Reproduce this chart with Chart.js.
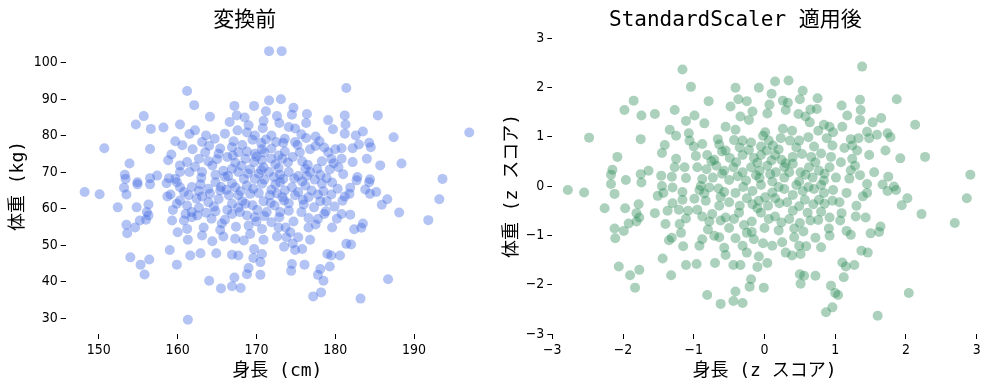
<!DOCTYPE html>
<html>
<head>
<meta charset="utf-8">
<script src="https://cdn.jsdelivr.net/npm/chart.js@4.4.1/dist/chart.umd.min.js"></script>
<style>
  body { margin: 0; background: #fff; width: 989px; height: 390px; overflow: hidden; position: relative; }
  .box { position: absolute; top: 0; height: 390px; }
</style>
</head>
<body>
<div class="box" style="left:0;width:494px"><canvas id="before" width="494" height="390" style="width:494px;height:390px"></canvas></div>
<div class="box" style="left:494px;width:495px"><canvas id="after" width="495" height="390" style="width:495px;height:390px"></canvas></div>
<script>
// 変換前: [身長 cm, 体重 kg]
const rawPoints = [
  [161.2,92.3],[162.1,88.4],[155.7,85.4],[154.7,83.1],[156.6,81.9],[158.2,82.3],[160.3,83.1],[161.5,80.5],
  [159.7,78.5],[160.6,77.4],[161.9,76.3],[150.7,76.6],[156.5,76.4],[159.2,74.9],[158.8,73.3],[153.9,72.4],
  [153.3,69.3],[154.9,67.3],[156.5,68.4],[157.4,69.1],[158.9,68.4],[160.3,70.1],[161.5,70.1],[159.7,68.2],
  [153.4,68.2],[161.2,72.8],[160.3,71.9],
  [148.2,64.6],[150.1,64.0],[153.2,65.8],[153.5,63.9],[154.9,66.7],[156.5,66.7],[152.4,60.4],[154.8,60.4],
  [156.3,61.2],[156.1,59.1],[156.3,58.2],[156.0,57.0],[155.2,56.8],[154.6,54.9],[153.5,55.6],[153.6,53.3],
  [154.0,46.7],[155.3,44.7],[156.4,46.1],[155.8,42.0],[159.0,48.7],[159.9,44.7],[161.3,29.6],[158.7,63.4],
  [159.1,63.9],[158.6,67.0],[159.9,67.3],[159.9,61.4],[159.4,59.7],[159.3,56.8],[160.0,53.6],[160.8,56.8],
  [161.2,54.5],[161.3,51.5],[161.6,47.2],[160.8,64.6],[161.4,63.7],[160.3,62.3],[161.2,60.9],[161.8,59.1],
  [161.8,57.7],[161.0,58.6],[160.3,65.9],
  [171.6,103.2],[173.2,103.2],[171.6,89.7],[173.1,90.0],[169.7,88.2],[167.2,88.2],[174.7,87.7],[171.2,86.7],
  [164.1,85.2],[167.5,85.6],[168.5,85.0],[172.6,85.4],[174.5,85.8],[176.4,86.0],[179.1,84.3],[166.6,83.8],
  [170.9,84.1],[172.9,83.5],[176.3,83.5],[169.0,82.9],[167.6,81.5],[168.8,80.9],[170.8,82.1],[174.1,82.4],
  [174.9,82.0],[179.7,81.8],[163.6,80.1],[162.2,81.5],[175.7,80.4],[176.3,79.4],[177.5,79.8],[167.1,78.5],
  [170.6,78.0],[172.5,78.3],[173.4,78.1],[163.1,78.3],[165.4,76.5],[167.7,75.5],[168.8,75.7],[169.8,75.1],
  [171.9,76.5],[173.6,75.7],[176.8,76.3],[177.5,77.2],[163.5,75.5],[165.2,75.1],[180.0,76.3],[162.7,73.7],
  [163.9,73.0],[166.3,74.2],[167.3,72.6],[168.6,73.7],[169.7,72.8],[170.7,73.3],[171.9,73.7],[173.3,73.7],
  [174.6,74.2],[175.8,73.0],[178.3,73.0],[179.5,73.7],[180.4,71.4],[163.1,70.1],[164.8,69.3],[166.0,68.7],
  [167.7,70.1],[169.2,70.8],[170.3,69.6],[171.6,70.1],[172.8,71.2],[174.1,70.1],[175.3,69.0],[176.8,70.1],
  [178.1,69.3],[179.3,70.8],[166.9,71.0],[170.9,71.4],[172.2,68.7],[173.4,68.2],[176.2,71.0],[168.4,68.2],
  [164.4,71.9],[169.8,68.2],[178.9,68.4],[179.1,75.5],[174.9,78.3],[164.7,79.2],[166.0,80.6],[169.8,80.1],
  [171.9,80.1],[173.6,79.2],[170.7,76.3],[166.9,76.9],
  [181.4,93.1],[181.2,85.6],[181.3,83.1],[185.4,85.6],[181.2,80.6],[182.6,80.1],[183.5,81.2],[187.4,79.6],
  [197.0,80.9],[180.8,76.6],[182.2,76.6],[183.0,77.6],[184.3,78.1],[184.5,76.9],[180.8,73.7],[182.2,72.8],
  [184.0,73.7],[185.7,71.9],[188.4,72.4],[182.8,68.7],[184.4,68.1],[193.6,68.2],
  [181.9,65.8],[182.7,67.8],[184.3,67.3],[183.8,65.3],[184.4,64.1],[185.2,64.6],[193.2,62.6],[186.6,62.6],
  [185.9,61.1],[188.1,59.0],[191.8,56.9],[181.2,63.4],[181.8,64.1],[180.8,58.6],[181.9,58.4],[183.5,56.0],
  [183.3,54.8],[182.4,54.4],[181.4,50.4],[182.0,50.2],[180.6,47.2],[186.7,40.7],[183.2,35.4],
  [164.0,40.3],[165.5,38.2],[166.9,38.8],[168.0,38.3],[167.2,41.2],[168.8,42.1],[169.0,43.8],[170.5,41.9],
  [162.9,47.8],[164.9,47.8],[166.9,47.4],[167.7,47.2],[169.7,49.0],[170.7,47.6],[169.6,46.5],[170.5,45.4],
  [174.5,44.9],[174.4,43.0],[176.1,44.7],[178.1,43.5],[177.8,41.9],[178.5,40.3],[178.2,37.1],[177.2,36.0],
  [179.3,44.2],[179.5,47.2],[179.0,47.6],[173.5,49.6],[174.6,50.5],[174.9,48.7],[175.8,49.0],[176.8,51.5],
  [163.1,52.7],[164.4,51.1],[165.8,52.4],[167.3,51.8],[168.4,51.3],[169.2,53.1],[170.9,51.5],[172.6,52.4],
  [173.8,52.2],[175.3,52.2],[162.5,58.2],[164.3,57.3],[165.4,54.2],[166.9,58.6],[167.4,55.1],[167.9,59.1],
  [169.0,55.4],[169.8,57.7],[170.7,54.5],[171.9,56.3],[172.9,57.7],[173.7,54.9],[174.3,53.6],[176.6,57.5],
  [177.5,55.7],[178.6,58.6],[179.6,54.9],[180.2,57.3],[162.9,66.7],[164.1,64.1],[163.9,61.8],[162.7,60.3],
  [165.4,65.0],[166.5,63.7],[167.3,65.9],[168.2,62.1],[169.2,64.1],[170.1,59.7],[170.9,62.1],[170.7,66.9],
  [172.4,66.7],[172.3,60.9],[173.3,63.2],[174.1,59.5],[174.9,63.7],[176.0,61.2],[177.0,65.0],[178.1,62.1],
  [178.8,59.3],[179.5,63.9],[179.9,60.6],[174.5,65.9],[176.2,66.4],[178.3,66.9],[168.8,66.4],[166.3,59.7],
  [164.8,59.3],[167.7,60.3],[171.7,63.7],[164.8,67.3],[166.9,67.0],[173.6,65.0],[170.3,64.3],[167.7,63.7],
  [175.3,64.6],[177.8,63.9],[178.9,62.1],[163.1,63.4],[165.2,62.7],[171.9,65.2],[168.6,61.4],[174.1,61.5],
  [176.6,63.2],[166.9,61.4],[171.3,59.1],[173.0,59.1],[175.7,59.1],[163.3,54.9],[172.8,54.9],[176.6,54.9],
  [163.0,68.5],[165.8,70.4],[168.1,71.8],[170.0,74.3],[172.4,72.2],[174.0,72.7],[176.5,72.1],[177.7,71.0],
  [179.8,72.5],[165.0,73.6],[167.0,74.6],[171.0,75.4],[172.8,74.6],[175.5,75.5],[178.6,76.8],[164.0,77.3],
  [168.2,77.5],[169.5,78.9],[171.2,79.0],[175.2,77.5],[178.0,78.5],[165.5,66.0],[169.6,65.5],[171.0,68.0],
  [173.0,67.3],[175.8,67.5],[177.4,68.0],[179.6,67.2],[163.9,65.5],[166.2,65.2],[168.0,64.8],[172.6,64.2],
  [175.9,62.5],[177.3,60.4],[169.5,61.0],[171.8,61.6],[164.6,60.6],[166.0,57.0],[168.8,58.2],[171.0,58.0],
  [174.7,56.5],[177.8,57.2],[162.4,62.8],[162.2,71.5],[161.8,66.0],[163.6,58.9],[165.6,56.0],[170.0,56.5],
  [173.5,62.3],[178.5,64.8],[180.3,65.5],[181.0,69.5],[180.9,62.2],[166.4,69.0],[168.9,69.7],[170.6,70.6],
  [173.0,69.3],[174.8,68.3],[176.4,69.0],[162.7,64.9]
];

// StandardScaler 適用後: [身長 z, 体重 z]
const scaledPoints = [
  [-1.16,2.36],[-1.04,2.01],[-1.85,1.73],[-1.98,1.54],[-1.74,1.43],[-1.55,1.46],[-1.27,1.54],[-1.11,1.32],
  [-1.34,1.14],[-1.25,1.02],[-1.07,1.07],[-1.06,0.92],[-2.48,0.98],[-1.75,0.95],[-1.41,0.83],[-1.45,0.67],
  [-2.08,0.59],[-2.15,0.33],[-2.17,0.23],[-1.96,0.12],[-1.75,0.24],[-1.74,0.07],[-1.64,0.31],[-1.46,0.21],
  [-1.31,0.19],[-1.27,0.38],[-1.13,0.38],[-1.11,0.16],[-2.17,0.04],
  [-2.78,-0.08],[-2.55,-0.13],[-2.12,-0.16],[-2.26,-0.45],[-1.97,-0.45],[-1.78,-0.37],[-1.81,-0.55],[-1.77,-0.64],
  [-1.81,-0.72],[-1.92,-0.76],[-1.99,-0.91],[-2.12,-0.86],[-2.11,-1.06],[-2.06,-1.63],[-1.90,-1.81],[-1.77,-1.70],
  [-1.83,-2.06],[-1.44,-1.47],[-1.32,-1.81],[-1.11,-1.60],[-1.40,-0.77],[-1.31,-1.05],[-1.15,-1.22],[-1.18,-0.95],
  [-1.20,-0.77],[-1.51,-0.20],[-1.43,-0.14],[-1.37,-0.50],[-1.30,-0.35],[-1.21,-0.48],[-1.16,-0.28],[-1.11,-0.66],
  [-1.08,-0.50],[-1.16,-0.12],[-1.30,-0.03],
  [-0.79,1.72],[-0.41,1.99],[-0.08,1.99],[0.15,2.12],[0.34,2.14],[0.10,1.87],[0.54,1.93],[0.75,1.78],
  [-0.37,1.76],[-0.25,1.72],[-0.48,1.61],[0.07,1.65],[0.26,1.73],[0.33,1.69],[0.50,1.76],[0.30,1.54],
  [0.74,1.56],[-0.17,1.51],[-0.34,1.41],[-0.22,1.34],[0.04,1.47],[-0.99,1.43],[-0.85,1.27],[0.48,1.46],
  [0.58,1.41],[0.64,1.29],[0.84,1.24],[0.92,1.20],[-0.41,1.14],[0.01,1.09],[0.26,1.16],[0.39,1.12],
  [0.76,1.12],[0.97,1.09],[-0.88,0.85],[-0.66,0.95],[-0.64,0.84],[-0.43,0.93],[-0.31,0.92],[-0.19,0.88],
  [-0.02,1.02],[0.06,0.92],[0.12,0.82],[0.23,0.97],[0.36,0.92],[0.49,0.92],[0.62,0.99],[0.88,0.97],
  [0.96,0.82],[-0.97,0.61],[-0.81,0.63],[-0.71,0.53],[-0.55,0.72],[-0.49,0.57],[-0.31,0.63],[-0.22,0.73],
  [-0.15,0.57],[-0.05,0.63],[0.03,0.72],[0.15,0.63],[0.24,0.53],[0.40,0.59],[0.53,0.65],[0.66,0.59],
  [0.80,0.66],[0.94,0.59],[-0.95,0.38],[-0.82,0.34],[-0.68,0.41],[-0.57,0.31],[-0.44,0.38],[-0.31,0.28],
  [-0.19,0.38],[-0.07,0.31],[0.04,0.41],[0.16,0.28],[0.28,0.38],[0.40,0.45],[0.51,0.28],[0.63,0.38],
  [0.77,0.31],[0.92,0.38],[1.01,0.17],[-0.88,0.14],[-0.73,0.17],[-0.50,0.12],[-0.26,0.11],[-0.07,0.16],
  [0.11,0.09],[0.28,0.17],[0.49,0.09],[0.68,0.17],[0.84,0.11],
  [1.38,2.42],[1.87,1.76],[1.35,1.75],[1.09,1.63],[1.36,1.54],[1.17,1.43],[1.35,1.34],[1.53,1.29],
  [1.65,1.38],[2.13,1.24],[1.22,0.95],[1.33,0.97],[1.48,0.97],[1.59,1.04],[1.74,1.07],[1.78,0.99],
  [1.13,0.77],[1.24,0.82],[1.31,0.72],[1.48,0.63],[1.71,0.72],[1.92,0.56],[2.27,0.59],[1.08,0.48],
  [1.24,0.55],[1.28,0.41],[1.22,0.32],[1.55,0.28],[1.75,0.19],[2.91,0.23],[1.45,0.04],[1.67,0.03],
  [1.83,-0.01],
  [2.86,-0.25],[2.02,-0.25],[1.94,-0.39],[2.22,-0.57],[2.69,-0.75],[1.74,-0.10],[1.86,-0.08],[1.16,-0.14],
  [1.39,-0.21],[1.45,-0.14],[1.06,-0.33],[1.09,-0.55],[1.07,-0.70],[1.29,-0.62],[1.43,-0.64],[1.16,-0.91],
  [1.22,-0.99],[1.50,-0.96],[1.62,-0.93],[1.64,-0.82],[1.37,-1.31],[1.46,-1.35],[1.10,-1.55],[1.15,-1.63],
  [1.27,-1.60],[1.12,-1.85],[1.04,-2.21],[2.04,-2.17],[1.60,-2.63],
  [-0.81,-2.21],[-0.62,-2.39],[-0.44,-2.33],[-0.41,-2.14],[-0.31,-2.37],[-0.19,-1.89],[-0.21,-2.04],[-0.01,-2.06],
  [-0.96,-1.58],[-0.70,-1.56],[-0.44,-1.60],[-0.34,-1.60],[-0.08,-1.43],[-0.10,-1.64],[0.04,-1.56],[0.39,-1.41],
  [0.51,-1.38],[0.49,-1.21],[0.50,-1.79],[0.56,-1.82],[0.51,-1.98],[0.72,-1.82],[0.87,-2.56],[0.96,-2.46],
  [0.94,-2.02],[1.00,-2.17],[0.80,-1.24],[-0.88,-1.08],[-0.92,-1.21],[-0.71,-1.01],[-0.57,-1.25],[-0.64,-1.04],
  [-0.41,-1.06],[-0.31,-1.21],[-0.18,-0.93],[-0.15,-1.08],[-0.02,-1.16],[0.11,-1.21],[0.25,-1.14],[0.42,-1.04],
  [0.91,-0.86],[0.92,-1.01],[0.76,-0.69],[-0.99,-0.26],[-0.83,-0.30],[-0.95,-0.48],[-0.78,-0.72],[-0.74,-0.57],
  [-0.55,-0.64],[-0.43,-0.67],[-0.36,-0.54],[-0.29,-0.79],[-0.18,-0.72],[-0.05,-0.54],[0.06,-0.67],[0.15,-0.62],
  [0.24,-0.74],[0.35,-0.67],[0.42,-0.86],[0.50,-0.75],[0.61,-0.54],[0.69,-0.37],[0.92,-0.64],[0.96,-0.30],
  [0.77,-0.28],[-0.92,-0.08],[-0.78,-0.03],[-0.57,-0.12],[-0.41,-0.14],[-0.17,-0.10],[0.01,-0.23],[0.11,-0.13],
  [0.28,-0.06],[0.40,-0.18],[0.54,-0.10],[0.70,-0.06],[0.84,-0.14],[0.97,-0.08],[0.59,-1.22],[-0.64,-0.40],
  [-0.17,-0.37],[0.21,-0.35],[0.49,-0.41],[-0.50,-0.33],
  [-0.90,0.00],[-0.65,-0.05],[-0.30,-0.02],[-0.05,0.02],[0.20,-0.02],[0.45,0.02],[0.62,-0.02],[0.80,0.02],
  [-0.60,0.25],[-0.38,0.20],[-0.12,0.22],[0.08,0.24],[0.35,0.28],[0.58,0.23],[0.85,0.25],[-0.75,0.50],
  [-0.40,0.48],[-0.10,0.47],[0.10,0.52],[0.30,0.46],[0.72,0.48],[-0.60,0.70],[-0.35,0.78],[-0.05,0.80],
  [0.20,0.74],[0.45,0.78],[0.70,0.80],[-0.85,-0.15],[-0.62,-0.22],[-0.25,-0.25],[-0.08,-0.30],[0.15,-0.25],
  [0.32,-0.33],[0.57,-0.28],[0.85,-0.36],[-0.88,-0.62],[-0.62,-0.70],[-0.35,-0.40],[-0.10,-0.45],[0.05,-0.40],
  [0.40,-0.50],[0.65,-0.70],[0.80,-0.52],[-0.50,-0.85],[-0.25,-0.95],[0.00,-0.85],[0.20,-0.90],[0.55,-0.92],
  [0.72,-1.05],[-0.80,-0.88],[0.30,-1.35],[-0.25,-1.35],[-0.55,-1.40],[1.20,0.15],[1.35,0.22],[1.30,-0.40],
  [-1.00,0.80],[-1.25,0.55],[-1.45,0.00],[-1.55,-0.55],[-1.35,-1.10],[1.45,1.10],[1.10,1.20],[-0.55,1.20],
  [0.65,1.55]
];

const rawXTicks = [150, 160, 170, 180, 190];
const rawYTicks = [30, 40, 50, 60, 70, 80, 90, 100];
const scaledTicks = [-3, -2, -1, 0, 1, 2, 3];

const tickFont = { family: "'Liberation Sans Narrow','DejaVu Sans Condensed','Noto Sans CJK JP',sans-serif", size: 14 };
const textFamily = "'DejaVu Sans Mono','Noto Sans CJK JP',monospace";

function axis(dir, min, max, ticks, label, size, titlePad) {
  return {
    type: 'linear',
    position: dir === 'x' ? 'bottom' : 'left',
    min: min,
    max: max,
    border: { display: false },
    grid: { drawOnChartArea: false, drawTicks: true, tickLength: 5, tickColor: '#000', tickWidth: 1 },
    ticks: {
      color: '#000', font: tickFont, padding: 3, autoSkip: false, maxRotation: 0,
      callback: v => String(v).replace('-', '\u2212')
    },
    afterBuildTicks: s => { s.ticks = ticks.map(v => ({ value: v })); },
    afterFit: s => { if (dir === 'x') s.height = size; else s.width = size; },
    title: {
      display: true, text: label, color: '#000',
      font: { family: textFamily, size: 18, lineHeight: 1.2 },
      padding: { top: titlePad, bottom: titlePad }
    }
  };
}

function scatter(id, cfg) {
  return new Chart(document.getElementById(id), {
    type: 'scatter',
    data: {
      datasets: [{
        data: cfg.points.map(p => ({ x: p[0], y: p[1] })),
        backgroundColor: cfg.color,
        borderWidth: 0,
        pointRadius: 5,
        pointHoverRadius: 5
      }]
    },
    options: {
      responsive: false,
      animation: false,
      devicePixelRatio: 1,
      layout: { padding: { left: 0, right: cfg.padRight, top: 0, bottom: 0 } },
      plugins: {
        legend: { display: false },
        tooltip: { enabled: false },
        title: {
          display: true, text: cfg.title, color: '#000',
          font: { family: textFamily, size: 21, weight: 'normal', lineHeight: 1.2 },
          padding: { top: 8, bottom: 4.8 }
        }
      },
      scales: {
        x: axis('x', cfg.xMin, cfg.xMax, cfg.xTicks, cfg.xLabel, 56, 8.2),
        y: axis('y', cfg.yMin, cfg.yMax, cfg.yTicks, cfg.yLabel, cfg.yWidth, 7.5)
      }
    }
  });
}

scatter('before', {
  points: rawPoints,
  color: 'rgba(65,105,225,0.4)',
  title: '変換前',
  xLabel: '身長 (cm)', yLabel: '体重 (kg)',
  xMin: 145.8, xMax: 199.5, yMin: 25.7, yMax: 106.8,
  xTicks: rawXTicks, yTicks: rawYTicks,
  yWidth: 65.7, padRight: 4.6
});

scatter('after', {
  points: scaledPoints,
  color: 'rgba(46,139,87,0.4)',
  title: 'StandardScaler 適用後',
  xLabel: '身長 (z スコア)', yLabel: '体重 (z スコア)',
  xMin: -3, xMax: 3, yMin: -3, yMax: 3,
  xTicks: scaledTicks, yTicks: scaledTicks,
  yWidth: 58.3, padRight: 12.3
});
</script>
</body>
</html>
